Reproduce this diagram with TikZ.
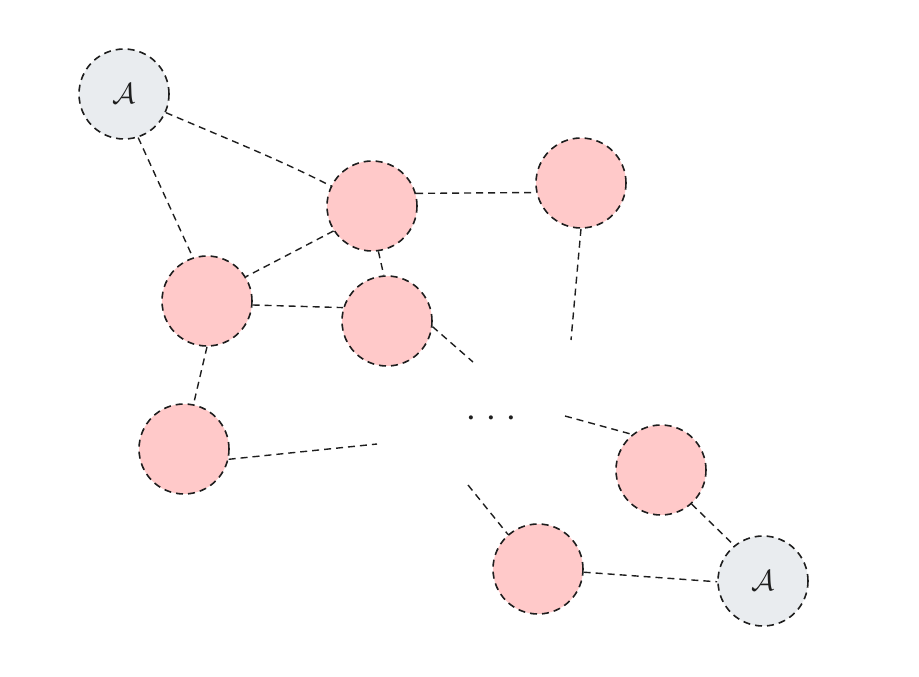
\documentclass[tikz,border=0pt]{standalone}
\usepackage{graphicx}
\definecolor{pinkfill}{HTML}{FFC9C9}
\definecolor{grayfill}{HTML}{E9ECEF}
\definecolor{inkc}{HTML}{1E1E1E}
\newcommand{\bigA}{\scalebox{2.9}{$\mathcal{A}$}}
\newcommand{\bigdot}{\scalebox{1.05}{$\bullet$}}
\begin{document}
\begin{tikzpicture}[x=1pt,y=-1pt,
  dash style/.style={draw=inkc, line width=1.6pt, dash pattern=on 7pt off 5pt},
  ball/.style={circle, minimum size=90pt, inner sep=0pt, dash style, fill=pinkfill},
  anchorball/.style={ball, fill=grayfill, text=inkc},
  link/.style={dash style, line width=1.4pt}]
\useasboundingbox (0,0) rectangle (919,677);
\node[anchorball] (a1) at (124,94) {\bigA};
\node[ball] (n1) at (372,206) {};
\node[ball] (n2) at (581,183) {};
\node[ball] (n3) at (207,301) {};
\node[ball] (n4) at (387,321) {};
\node[ball] (n5) at (184,449) {};
\node[ball] (n6) at (661,470) {};
\node[ball] (n7) at (538,569) {};
\node[anchorball] (a2) at (763,581) {\bigA};
\node[text=inkc, inner sep=0pt] (dots) at (491,418) {\bigdot\hspace{14.7pt}\bigdot\hspace{14.7pt}\bigdot};
\coordinate (e1) at (473,362);
\coordinate (e2) at (571,340);
\coordinate (e3) at (377,444);
\coordinate (e4) at (565,416);
\coordinate (e5) at (468,485);
\draw[link] (a1.336) .. controls (230,140) and (280,160) .. (n1.154);
\draw[link] (a1.288) -- (n3.108);
\draw[link] (n1.16) -- (n2.192);
\draw[link] (n1.213) -- (n3.32);
\draw[link] (n1.278) -- (n4.94);
\draw[link] (n3.355) -- (n4.163);
\draw[link] (n3.270) -- (n5.78);
\draw[link] (n4.353) -- (e1);
\draw[link] (n2.270) -- (e2);
\draw[link] (n5.347) -- (e3);
\draw[link] (e4) -- (n6.129);
\draw[link] (e5) -- (n7.131);
\draw[link] (n6.312) -- (a2.129);
\draw[link] (n7.356) -- (a2.181);
\end{tikzpicture}
\end{document}
